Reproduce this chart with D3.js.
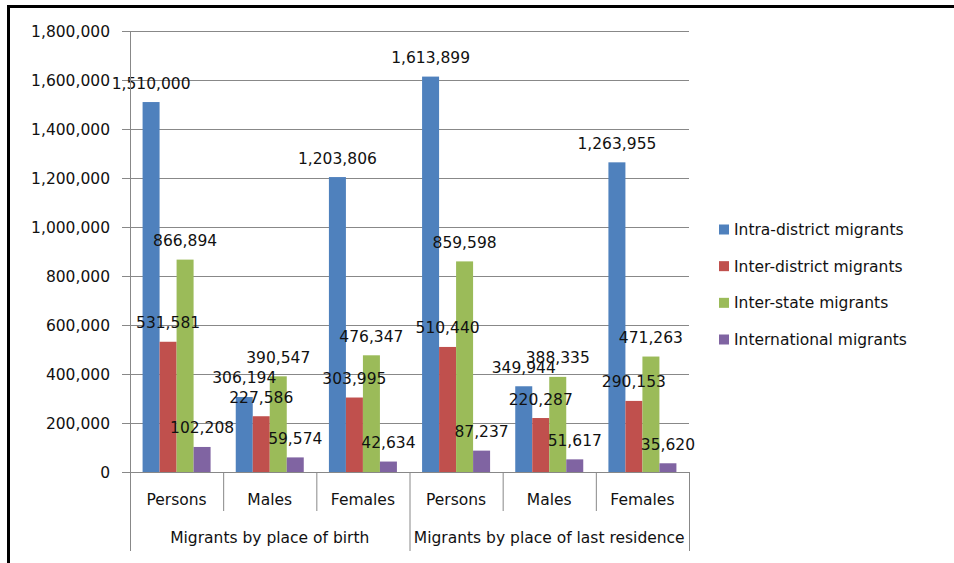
<!DOCTYPE html>
<html>
<head>
<meta charset="utf-8">
<script src="https://cdn.jsdelivr.net/npm/d3@7/dist/d3.min.js"></script>
<style>
  html, body { margin: 0; padding: 0; background: #fff; }
  svg { display: block; font-family: "DejaVu Sans", sans-serif; }
</style>
</head>
<body>
<svg id="chart" width="954" height="563"></svg>
<script>
// Migrant counts by type, grouped by place of birth / place of last residence
const groups = ["Migrants by place of birth", "Migrants by place of last residence"];
const categories = ["Persons", "Males", "Females"];
const seriesNames = ["Intra-district migrants", "Inter-district migrants", "Inter-state migrants", "International migrants"];
const seriesColors = ["#4F81BD", "#C0504D", "#9BBB59", "#8064A2"];

// one array per series, in order: birth (Persons, Males, Females), last residence (Persons, Males, Females)
const intraDistrict = [1510000, 306194, 1203806, 1613899, 349944, 1263955];
const interDistrict = [531581, 227586, 303995, 510440, 220287, 290153];
const interState    = [866894, 390547, 476347, 859598, 388335, 471263];
const international = [102208, 59574, 42634, 87237, 51617, 35620];
const seriesValues = [intraDistrict, interDistrict, interState, international];

const yTicks = [0, 200000, 400000, 600000, 800000, 1000000, 1200000, 1400000, 1600000, 1800000];

const svg = d3.select("#chart");
const fmt = d3.format(",");

const plot = { left: 130, right: 689, top: 31, bottom: 472 };

// outer frame (left and top edges visible within the page)
svg.append("path")
  .attr("d", "M8.5,563 L8.5,6.5 L954,6.5")
  .attr("fill", "none")
  .attr("stroke", "#000")
  .attr("stroke-width", 3);

const slots = [];
groups.forEach((g, gi) => categories.forEach((c, ci) => slots.push({ group: g, gi, cat: c, key: gi + "|" + c })));

const x = d3.scaleBand()
  .domain(slots.map(s => s.key))
  .range([plot.left, plot.right])
  .paddingInner(0)
  .paddingOuter(0);

const xs = d3.scaleBand()
  .domain(d3.range(seriesNames.length))
  .range([0, x.bandwidth()])
  .paddingInner(0)
  .paddingOuter(0.74);

const y = d3.scaleLinear()
  .domain([0, 1800000])
  .range([plot.bottom, plot.top]);

// gridlines + y axis ticks
const yAxis = d3.axisLeft(y)
  .tickValues(yTicks)
  .tickFormat(d => fmt(d))
  .tickSize(-(plot.right - plot.left))
  .tickPadding(0);

const yg = svg.append("g")
  .attr("transform", `translate(${plot.left},0)`)
  .call(yAxis);
yg.select(".domain").remove();
yg.selectAll(".tick line")
  .attr("x1", -8)
  .attr("stroke", "#888")
  .attr("stroke-width", 1);
yg.selectAll(".tick text")
  .attr("x", -20)
  .attr("dy", "0.34em")
  .attr("fill", "#111")
  .style("font-size", "15.5px")
  .style("font-family", "DejaVu Sans, sans-serif");

// bars
const barData = [];
slots.forEach((s, i) => {
  seriesValues.forEach((vals, si) => {
    barData.push({ slot: s, si, value: vals[i] });
  });
});

svg.append("g").selectAll("rect")
  .data(barData)
  .join("rect")
  .attr("x", d => x(d.slot.key) + xs(d.si))
  .attr("y", d => y(d.value))
  .attr("width", xs.bandwidth())
  .attr("height", d => y(0) - y(d.value))
  .attr("fill", d => seriesColors[d.si]);

// value labels above each bar
svg.append("g").selectAll("text")
  .data(barData)
  .join("text")
  .attr("x", d => x(d.slot.key) + xs(d.si) + xs.bandwidth() / 2)
  .attr("y", d => y(d.value) - 13.5)
  .attr("text-anchor", "middle")
  .attr("fill", "#111")
  .style("font-size", "15.5px")
  .text(d => fmt(d.value));

// category axis: baseline, separators, labels
const axisG = svg.append("g").attr("stroke", "#888").attr("stroke-width", 1);
axisG.append("line")
  .attr("x1", plot.left - 8).attr("x2", plot.right)
  .attr("y1", y(0) + 0.5).attr("y2", y(0) + 0.5);

// vertical axis line spans the plot and the two-level category area
axisG.append("line")
  .attr("x1", plot.left + 0.5).attr("x2", plot.left + 0.5)
  .attr("y1", plot.top).attr("y2", 551);

slots.forEach((s, i) => {
  const xr = x(s.key) + x.bandwidth();
  const isGroupEnd = (i + 1) % categories.length === 0;
  axisG.append("line")
    .attr("x1", xr + 0.5).attr("x2", xr + 0.5)
    .attr("y1", y(0)).attr("y2", isGroupEnd ? 551 : 511);
});

svg.append("g").selectAll("text")
  .data(slots)
  .join("text")
  .attr("x", d => x(d.key) + x.bandwidth() / 2)
  .attr("y", 505)
  .attr("text-anchor", "middle")
  .attr("fill", "#111")
  .style("font-size", "15.5px")
  .text(d => d.cat);

svg.append("g").selectAll("text")
  .data(groups)
  .join("text")
  .attr("x", (g, gi) => {
    const first = x(gi + "|" + categories[0]);
    const last = x(gi + "|" + categories[categories.length - 1]) + x.bandwidth();
    return (first + last) / 2;
  })
  .attr("y", 543)
  .attr("text-anchor", "middle")
  .attr("fill", "#111")
  .style("font-size", "15.5px")
  .text(d => d);

// legend
const legend = svg.append("g").attr("transform", "translate(719,0)");
const legendY = d3.scalePoint().domain(d3.range(seriesNames.length)).range([229.5, 339.5]);
const li = legend.selectAll("g")
  .data(seriesNames)
  .join("g")
  .attr("transform", (d, i) => `translate(0,${legendY(i)})`);
li.append("rect")
  .attr("x", 0).attr("y", -5)
  .attr("width", 10).attr("height", 10)
  .attr("fill", (d, i) => seriesColors[i]);
li.append("text")
  .attr("x", 15)
  .attr("dy", "0.36em")
  .attr("fill", "#111")
  .style("font-size", "15.5px")
  .text(d => d);
</script>
</body>
</html>
